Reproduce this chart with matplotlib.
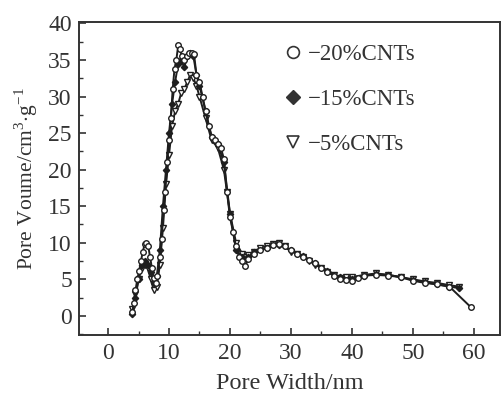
import matplotlib

matplotlib.use("Agg")
import matplotlib.pyplot as plt
from matplotlib.ticker import MultipleLocator

plt.rcParams["font.family"] = ["Liberation Serif", "DejaVu Serif"]
plt.rcParams["mathtext.fontset"] = "custom"
plt.rcParams["mathtext.rm"] = "Liberation Serif"

# 20% CNTs (open circles)
x20 = [4.0, 4.2, 4.5, 4.8, 5.1, 5.4, 5.7, 6.0, 6.3, 6.6, 6.9, 7.2, 7.5, 7.8, 8.1, 8.5,
       8.8, 9.1, 9.4, 9.7, 10.0, 10.3, 10.6, 10.9, 11.2, 11.5, 11.8, 12.1, 12.5, 12.9,
       13.3, 13.7, 14.1, 14.5, 15.0, 15.5, 16.0, 16.5, 17.0, 17.5, 18.0, 18.5, 19.0,
       19.5, 20.0, 20.5, 21.0, 21.5, 22.0, 22.5, 23.0, 24.0, 25.0, 26.0, 27.0, 28.0,
       29.0, 30.0, 31.0, 32.0, 33.0, 34.0, 35.0, 36.0, 37.0, 38.0, 39.0, 40.0, 41.0,
       42.0, 44.0, 46.0, 48.0, 50.0, 52.0, 54.0, 56.0, 59.5]
y20 = [0.5, 1.8, 3.5, 5.0, 6.2, 7.5, 8.8, 9.8, 10.0, 9.5, 8.0, 6.5, 5.2, 4.5, 5.5, 8.0,
       10.5, 14.5, 17.0, 21.0, 24.0, 27.0, 31.0, 33.8, 35.0, 37.0, 36.5, 35.5, 35.0, 35.5,
       36.0, 36.0, 35.8, 33.0, 32.0, 30.0, 28.0, 26.0, 24.5, 24.0, 23.5, 23.0, 21.5,
       17.0, 13.5, 11.5, 9.5, 8.0, 7.5, 6.8, 7.8, 8.5, 9.0, 9.3, 9.7, 9.8,
       9.5, 9.0, 8.5, 8.0, 7.7, 7.2, 6.5, 6.0, 5.5, 5.0, 4.9, 4.8, 5.2,
       5.5, 5.6, 5.5, 5.3, 4.8, 4.5, 4.3, 4.0, 1.2]

# 15% CNTs (filled diamonds)
x15 = [4.0, 4.5, 5.0, 5.5, 6.0, 6.5, 7.0, 7.5, 8.0, 8.5, 9.0, 9.5, 10.0, 10.5, 11.0,
       11.5, 12.0, 12.5, 13.0, 13.5, 14.0, 14.5, 15.0, 16.0, 17.0, 18.0, 19.0, 20.0,
       21.0, 22.0, 23.0, 24.0, 26.0, 28.0, 30.0, 32.0, 34.0, 36.0, 38.0, 40.0, 42.0,
       44.0, 46.0, 48.0, 50.0, 52.0, 54.0, 56.0, 57.5]
y15 = [0.3, 2.5, 5.0, 7.0, 7.5, 7.0, 6.0, 4.5, 5.5, 9.0, 15.0, 20.0, 25.0, 29.0, 32.0,
       34.5, 35.0, 34.0, 35.5, 36.0, 35.5, 33.0, 31.5, 28.0, 24.5, 23.5, 21.0, 14.0,
       9.0, 8.0, 8.0, 8.7, 9.3, 9.7, 9.0, 8.2, 7.2, 6.2, 5.3, 5.0, 5.5,
       5.7, 5.6, 5.3, 4.9, 4.6, 4.3, 4.0, 3.8]

# 5% CNTs (open down triangles)
x5 = [4.0, 4.5, 5.0, 5.5, 6.0, 6.5, 7.0, 7.5, 8.0, 8.5, 9.0, 9.5, 10.0, 10.5, 11.0,
      11.5, 12.0, 12.5, 13.0, 13.5, 14.0, 14.5, 15.0, 16.0, 17.0, 18.0, 19.0, 19.5,
      20.0, 21.0, 22.0, 23.0, 24.0, 25.0, 26.0, 27.0, 28.0, 29.0, 30.0, 31.0, 32.0,
      33.0, 34.0, 35.0, 36.0, 37.0, 38.0, 39.0, 40.0, 42.0, 44.0, 46.0, 48.0, 50.0,
      52.0, 54.0, 56.0, 57.5]
y5 = [1.0, 3.0, 5.0, 6.5, 7.0, 6.5, 5.0, 3.5, 4.0, 7.0, 12.0, 18.0, 22.0, 26.0, 28.0,
      29.0, 30.5, 31.0, 32.0, 33.0, 32.5, 31.5, 30.0, 27.0, 24.0, 23.0, 20.0, 17.0,
      14.0, 10.0, 8.5, 8.3, 8.8, 9.3, 9.6, 9.8, 9.9, 9.5, 8.8, 8.5, 8.0,
      7.5, 7.0, 6.5, 6.0, 5.6, 5.2, 5.3, 5.3, 5.6, 5.8, 5.6, 5.3, 5.0,
      4.7, 4.5, 4.2, 4.0]

labels = ["\u221220%CNTs", "\u221215%CNTs", "\u22125%CNTs"]

fig = plt.figure(figsize=(5.02, 3.93), dpi=100)
ax = fig.add_axes([0.157, 0.148, 0.839, 0.796])

col = "#1e1e1e"
txt = "#333333"
ax.plot(x5, y5, color=col, lw=1.4, marker="v", ms=4, mfc="white", mec=col, mew=1.0)
ax.plot(x15, y15, color=col, lw=1.4, marker="D", ms=3.2, mfc=col, mec=col)
ax.plot(x20, y20, color=col, lw=1.4, marker="o", ms=4, mfc="white", mec=col, mew=1.0)

h1, = ax.plot([], [], ls="none", marker="o", ms=8.5, mfc="white", mec=txt, mew=1.2)
h2, = ax.plot([], [], ls="none", marker="D", ms=7.5, mfc=txt, mec=txt)
h3, = ax.plot([], [], ls="none", marker="v", ms=8, mfc="white", mec=txt, mew=1.2)
ax.legend([h1, h2, h3], labels, loc="upper left", bbox_to_anchor=(0.485, 0.93),
          frameon=False, handlelength=0.9, handletextpad=0.2, labelspacing=1.05,
          borderpad=0, borderaxespad=0, fontsize=16.5, labelcolor=txt)

ax.set_xlim(-4.8, 64.3)
ax.set_ylim(-2.6, 40.2)
ax.xaxis.set_major_locator(MultipleLocator(10))
ax.xaxis.set_minor_locator(MultipleLocator(5))
ax.yaxis.set_major_locator(MultipleLocator(5))
ax.yaxis.set_minor_locator(MultipleLocator(2.5))
ax.tick_params(which="both", direction="in", labelsize=17, colors=txt)
ax.tick_params(axis="x", which="major", pad=6)
ax.tick_params(axis="y", which="major", pad=5)
ax.tick_params(which="major", length=5, width=1.2)
ax.tick_params(which="minor", length=3, width=1.0)
for s in ax.spines.values():
    s.set_linewidth(1.4)
    s.set_color(txt)

ax.set_xlabel("Pore Width/nm", fontsize=17.5, color=txt, labelpad=6)
ax.set_ylabel(r"Pore Voume/cm$^{3}$$\cdot$g$^{-1}$", fontsize=15.5, color=txt, labelpad=6)

fig.savefig("out.png", dpi=100)
